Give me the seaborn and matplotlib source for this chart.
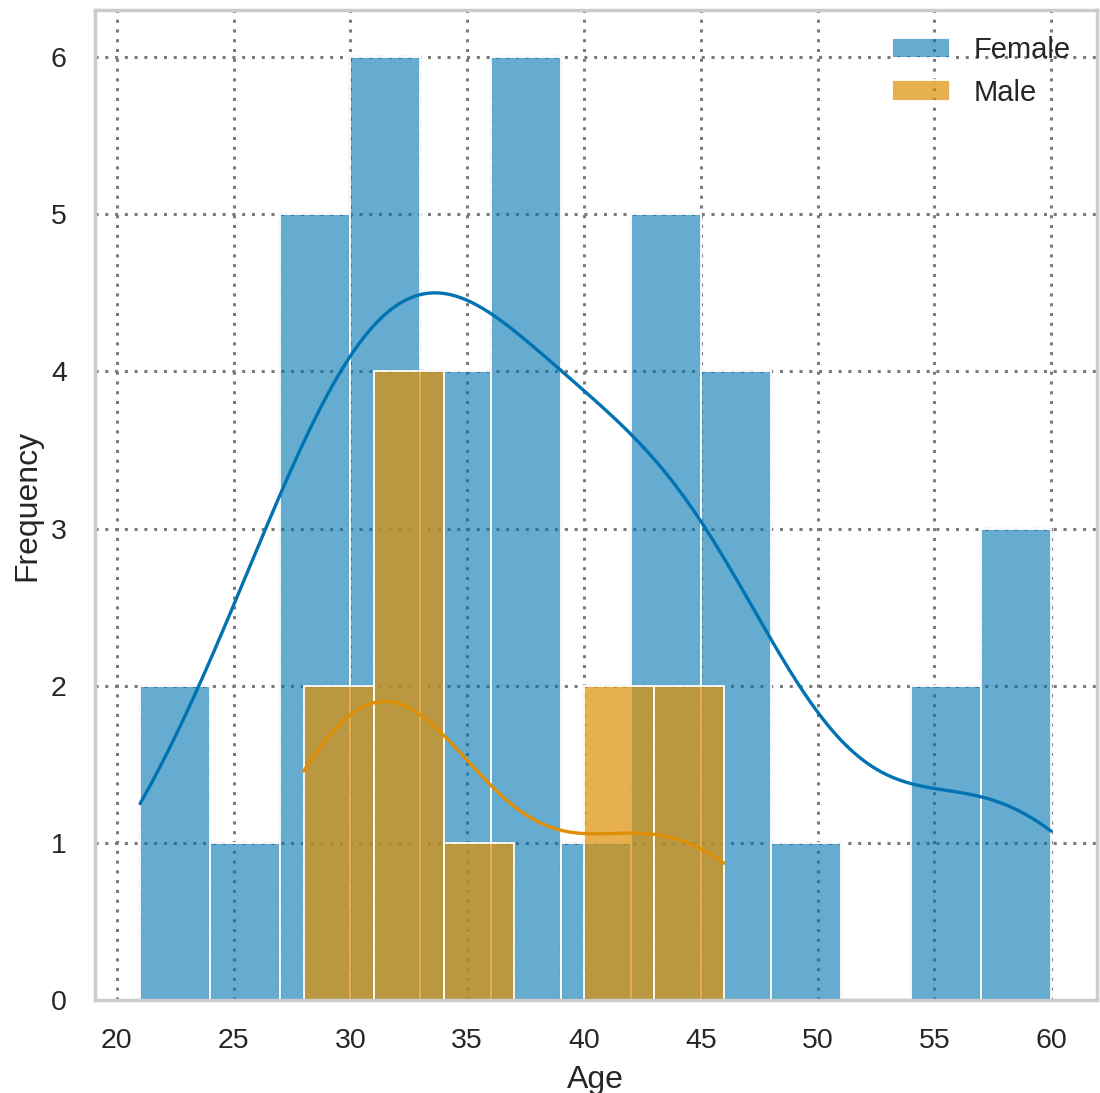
import matplotlib
matplotlib.use("Agg")
import matplotlib.pyplot as plt
import seaborn as sns
import pandas as pd

# ages (bins of 3 years)
female_ages = [21, 23,
               25,
               27, 28, 28, 29, 29,
               30, 31, 31, 32, 32, 32,
               33, 34, 35, 35,
               36, 36, 37, 37, 38, 38,
               41,
               42, 43, 43, 44, 44,
               45, 45, 46, 46,
               49,
               55, 56,
               58, 59, 60]
male_ages = [28, 29,
             31, 31, 32, 33,
             34,
             40, 42,
             45, 46]

female = pd.DataFrame({"Age": female_ages})
male = pd.DataFrame({"Age": male_ages})

sns.set_theme(style="whitegrid", palette="colorblind")
plt.rcParams['font.family'] = ['Liberation Sans', 'DejaVu Sans']
plt.rcParams['grid.linestyle'] = (0, (1, 2.2))
plt.rcParams['grid.color'] = '#7a7a7a'
plt.rcParams['grid.linewidth'] = 2.2
plt.rcParams['axes.edgecolor'] = '#cccccc'
plt.rcParams['axes.linewidth'] = 2.5

colors = sns.color_palette("colorblind")

fig = plt.figure(figsize=(11, 10.93), dpi=100)
ax = fig.add_axes([0.086, 0.085, 0.911, 0.906])

for data, color, alpha, label in [(female, colors[0], 0.6, "Female"),
                                  (male, colors[1], 0.7, "Male")]:
    # thin dashed outline under the bars
    sns.histplot(data=data, x="Age", binwidth=3, fill=False, color="#c6c6c6",
                 linestyle="--", linewidth=1.6, zorder=0.9, ax=ax)
    sns.histplot(data=data, x="Age", binwidth=3, kde=True, color=color,
                 alpha=alpha, edgecolor="white", linewidth=1.3,
                 line_kws={"linewidth": 2.4}, label=label, ax=ax)

ax.set_xlabel("Age", fontsize=23, labelpad=8)
ax.set_ylabel("Frequency", fontsize=23, labelpad=6)
ax.tick_params(labelsize=20.5, pad=14)
ax.set_xticks(range(20, 61, 5))
ax.legend(loc="upper right", frameon=False, fontsize=21)

plt.savefig("out.png")
